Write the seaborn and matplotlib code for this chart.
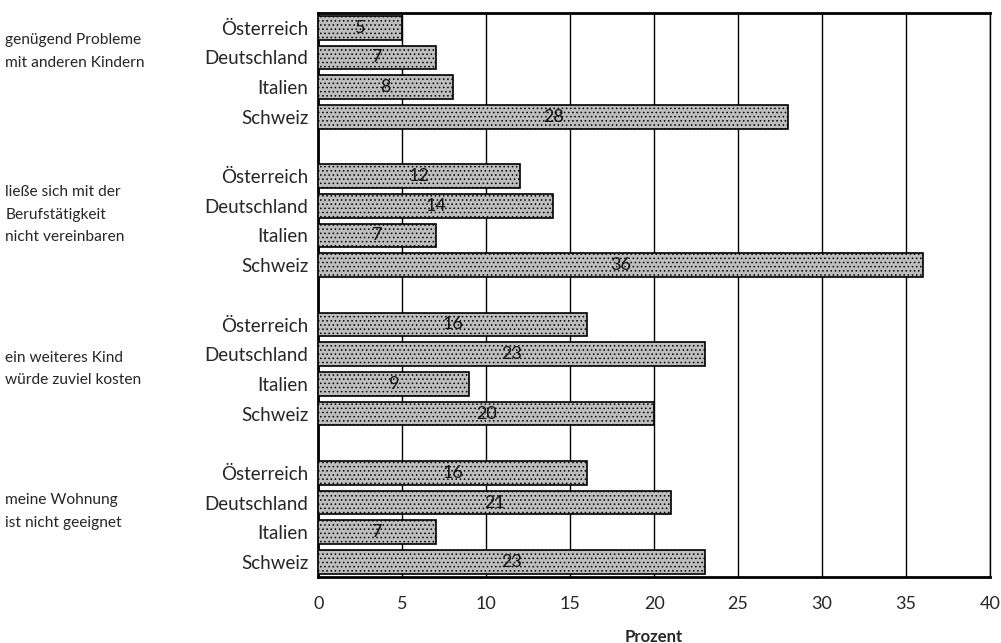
import numpy as np
import pandas as pd
import matplotlib
matplotlib.use("Agg")
import matplotlib.pyplot as plt
import seaborn as sns

#%% data
groups = ["genügend Probleme\nmit anderen Kindern",
          "ließe sich mit der\nBerufstätigkeit\nnicht vereinbaren",
          "ein weiteres Kind\nwürde zuviel kosten",
          "meine Wohnung\nist nicht geeignet"]
countries = ["Österreich", "Deutschland", "Italien", "Schweiz"]
values_probleme = [5, 7, 8, 28]
values_beruf = [12, 14, 7, 36]
values_kosten = [16, 23, 9, 20]
values_wohnung = [16, 21, 7, 23]
xticks = [0, 5, 10, 15, 20, 25, 30, 35, 40]

rows = []
for g, vals in enumerate([values_probleme, values_beruf, values_kosten, values_wohnung]):
    for c, v in zip(countries, vals):
        rows.append({"key": f"{g}_{c}", "group": g, "land": c, "prozent": v})
df = pd.DataFrame(rows)

# slot order with empty spacer slots between groups
order = []
for g in range(len(groups)):
    order += [f"{g}_{c}" for c in countries]
    if g < len(groups) - 1:
        order.append(f"gap{g}")

#%% plot
sns.set_style("white")
plt.rcParams["font.family"] = ["Lato", "DejaVu Sans"]
plt.rcParams["hatch.color"] = "#6e6e6e"
plt.rcParams["hatch.linewidth"] = 0.6

fig = plt.figure(figsize=(10.01, 6.43), dpi=100, facecolor="white")
ax = fig.add_axes([0.318, 0.103, 0.671, 0.877])
sns.barplot(data=df, y="key", x="prozent", order=order, orient="h",
            color="#bdbdbd", edgecolor="black", linewidth=1.2, width=0.8,
            saturation=1, ax=ax, zorder=3)
for p in ax.patches:
    p.set_hatch("....")
    p.set_zorder(3)

for cont in ax.containers:
    ax.bar_label(cont, label_type="center", fontsize=13, color="#111111")

ax.set_xlim(0, 40)
ax.set_ylim(len(order) - 0.5, -0.5)
ax.set_xticks(xticks)
ax.set_xticklabels([str(t) for t in xticks], fontsize=13)
ax.xaxis.grid(True, color="black", linewidth=1.0, zorder=0)
ax.set_axisbelow(True)

yt = list(range(len(order)))
ax.set_yticks(yt)
ax.set_yticklabels([k.split("_")[1] if "_" in k else "" for k in order], fontsize=13.5)
ax.tick_params(axis="y", which="major", length=0, pad=7)
ax.set_yticks(np.arange(-0.5, len(order), 1.0)[1:], minor=True)
ax.tick_params(axis="y", which="minor", length=4, width=1.2, direction="out")
ax.tick_params(axis="x", which="major", length=5, width=1.2, direction="in", pad=14)

ax.set_xlabel("Prozent", fontsize=12, fontweight="bold", labelpad=12)
ax.set_ylabel("")

for s in ["left", "bottom", "top"]:
    ax.spines[s].set_linewidth(2)
    ax.spines[s].set_color("black")
ax.spines["right"].set_linewidth(1.0)
ax.spines["right"].set_color("black")

# group labels on the far left
label_y = [0.8, 6.3, 11.5, 16.3]
for name, yy in zip(groups, label_y):
    ax.text(-0.466, yy, name, transform=ax.get_yaxis_transform(),
            ha="left", va="center", fontsize=11.2, linespacing=1.75)

plt.savefig("out.png", dpi=100, facecolor="white")
